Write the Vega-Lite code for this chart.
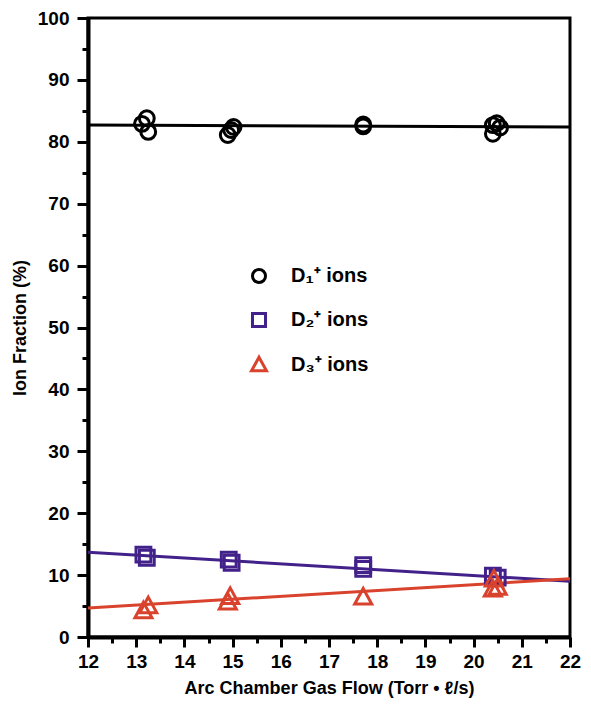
{
  "$schema": "https://vega.github.io/schema/vega-lite/v6.json",
  "width": 482,
  "height": 619,
  "autosize": {"type": "none"},
  "padding": {"left": 88, "top": 18, "right": 21, "bottom": 74},
  "background": "white",
  "config": {
    "font": "Liberation Sans",
    "view": {"stroke": "black", "strokeWidth": 3},
    "axis": {
      "grid": false,
      "domainColor": "black",
      "domainWidth": 4,
      "tickColor": "black",
      "tickWidth": 3,
      "labelColor": "black",
      "labelFont": "Liberation Sans",
      "labelFontWeight": "bold",
      "labelFontSize": 19,
      "titleFont": "Liberation Sans",
      "titleFontWeight": "bold",
      "titleFontSize": 18,
      "titleColor": "black"
    }
  },
  "datasets": {
    "pts": [
      {"flow": 13.12, "frac": 82.9, "ion": "D1"},
      {"flow": 13.22, "frac": 83.8, "ion": "D1"},
      {"flow": 13.25, "frac": 81.6, "ion": "D1"},
      {"flow": 14.9, "frac": 81.1, "ion": "D1"},
      {"flow": 14.97, "frac": 81.9, "ion": "D1"},
      {"flow": 15.02, "frac": 82.4, "ion": "D1"},
      {"flow": 17.71, "frac": 82.5, "ion": "D1"},
      {"flow": 17.71, "frac": 82.8, "ion": "D1"},
      {"flow": 20.4, "frac": 82.7, "ion": "D1"},
      {"flow": 20.48, "frac": 83.0, "ion": "D1"},
      {"flow": 20.4, "frac": 81.3, "ion": "D1"},
      {"flow": 20.55, "frac": 82.3, "ion": "D1"},
      {"flow": 13.15, "frac": 13.3, "ion": "D2"},
      {"flow": 13.22, "frac": 12.8, "ion": "D2"},
      {"flow": 14.92, "frac": 12.5, "ion": "D2"},
      {"flow": 14.98, "frac": 12.0, "ion": "D2"},
      {"flow": 17.71, "frac": 11.6, "ion": "D2"},
      {"flow": 17.71, "frac": 11.0, "ion": "D2"},
      {"flow": 20.4, "frac": 9.9, "ion": "D2"},
      {"flow": 20.5, "frac": 9.6, "ion": "D2"},
      {"flow": 13.15, "frac": 4.2, "ion": "D3"},
      {"flow": 13.25, "frac": 5.0, "ion": "D3"},
      {"flow": 14.9, "frac": 5.6, "ion": "D3"},
      {"flow": 14.95, "frac": 6.5, "ion": "D3"},
      {"flow": 17.71, "frac": 6.4, "ion": "D3"},
      {"flow": 20.4, "frac": 7.7, "ion": "D3"},
      {"flow": 20.5, "frac": 8.0, "ion": "D3"},
      {"flow": 20.42, "frac": 9.3, "ion": "D3"}
    ],
    "fits": [
      {"flow": 12, "frac": 82.7, "ion": "D1"},
      {"flow": 22, "frac": 82.4, "ion": "D1"},
      {"flow": 12, "frac": 13.7, "ion": "D2"},
      {"flow": 22, "frac": 9.0, "ion": "D2"},
      {"flow": 12, "frac": 4.7, "ion": "D3"},
      {"flow": 22, "frac": 9.4, "ion": "D3"}
    ]
  },
  "encoding": {
    "x": {
      "field": "flow",
      "type": "quantitative",
      "scale": {"domain": [12, 22], "nice": false, "zero": false},
      "axis": {
        "title": "Arc Chamber Gas Flow (Torr • ℓ/s)",
        "values": [12, 12.5, 13, 13.5, 14, 14.5, 15, 15.5, 16, 16.5, 17, 17.5, 18, 18.5, 19, 19.5, 20, 20.5, 21, 21.5, 22],
        "labelExpr": "datum.value % 1 === 0 ? format(datum.value, 'd') : ''",
        "tickSize": {"condition": {"test": "datum.value % 1 === 0", "value": 10}, "value": 6},
        "labelPadding": 5,
        "titlePadding": 8,
        "labelFlush": false
      }
    },
    "y": {
      "field": "frac",
      "type": "quantitative",
      "scale": {"domain": [0, 100], "nice": false},
      "axis": {
        "title": "Ion Fraction (%)",
        "values": [0, 5, 10, 15, 20, 25, 30, 35, 40, 45, 50, 55, 60, 65, 70, 75, 80, 85, 90, 95, 100],
        "labelExpr": "datum.value % 10 === 0 ? format(datum.value, 'd') : ''",
        "tickSize": {"condition": {"test": "datum.value % 10 === 0", "value": 11}, "value": 6},
        "labelPadding": 8,
        "titlePadding": 8,
        "labelFlush": false
      }
    }
  },
  "layer": [
    {
      "data": {"name": "fits"},
      "transform": [{"filter": "datum.ion === 'D1'"}],
      "mark": {"type": "line", "strokeWidth": 3, "clip": true, "color": "#000000"},
      "encoding": {}
    },
    {
      "data": {"name": "fits"},
      "transform": [{"filter": "datum.ion === 'D2'"}],
      "mark": {"type": "line", "strokeWidth": 3, "clip": true, "color": "#42228a"},
      "encoding": {}
    },
    {
      "data": {"name": "fits"},
      "transform": [{"filter": "datum.ion === 'D3'"}],
      "mark": {"type": "line", "strokeWidth": 3, "clip": true, "color": "#d9432d"},
      "encoding": {}
    },
    {
      "data": {"name": "pts"},
      "mark": {"type": "point", "filled": false, "strokeWidth": 3, "opacity": 1, "size": 220},
      "encoding": {
        "shape": {
          "field": "ion",
          "type": "nominal",
          "scale": {"domain": ["D1", "D2", "D3"], "range": ["circle", "square", "M0,-1.2L1.15,0.9L-1.15,0.9Z"]},
          "legend": {
            "title": null,
            "orient": "none",
            "legendX": 161,
            "legendY": 248,
            "labelExpr": "datum.value === 'D1' ? 'D₁⁺ ions' : datum.value === 'D2' ? 'D₂⁺ ions' : 'D₃⁺ ions'",
            "labelFontSize": 20,
            "labelFontWeight": "bold",
            "labelColor": "black",
            "labelOffset": 22,
            "rowPadding": 18,
            "symbolSize": 170,
            "symbolStrokeWidth": 3,
            "symbolFillColor": "transparent"
          }
        },
        "color": {
          "field": "ion",
          "type": "nominal",
          "scale": {"domain": ["D1", "D2", "D3"], "range": ["#000000", "#42228a", "#d9432d"]},
          "legend": {
            "title": null,
            "orient": "none",
            "legendX": 161,
            "legendY": 248,
            "labelExpr": "datum.value === 'D1' ? 'D₁⁺ ions' : datum.value === 'D2' ? 'D₂⁺ ions' : 'D₃⁺ ions'",
            "labelFontSize": 20,
            "labelFontWeight": "bold",
            "labelColor": "black",
            "labelOffset": 22,
            "rowPadding": 18,
            "symbolSize": 170,
            "symbolStrokeWidth": 3,
            "symbolFillColor": "transparent"
          }
        }
      }
    }
  ]
}
